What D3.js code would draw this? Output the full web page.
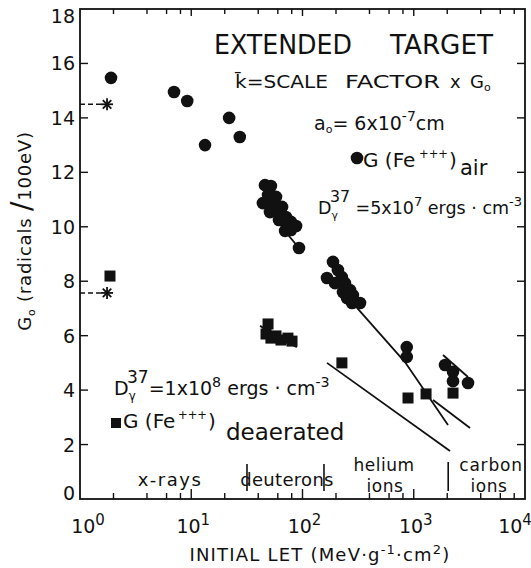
<!DOCTYPE html>
<html><head><meta charset="utf-8">
<script src="https://cdn.jsdelivr.net/npm/d3@7"></script>
<style>body{margin:0;background:#fff}svg{display:block}text{font-family:"DejaVu Sans",sans-serif;fill:#111}</style>
</head><body>
<script>
// ---- data ----
const yTicks = [0,2,4,6,8,10,12,14,16,18];
const xMajor = [1,10,100,1000,10000];
const xExp = ["0","1","2","3","4"];
const xMinorMult = [2,4,6,8];

// G(Fe+++) air (circles)
const airLET = [1.9, 7.0, 9.2, 13.3, 21.9, 27.3,
  46, 52, 49, 57.8, 44, 54, 65.5, 51, 62.8, 71, 61.5, 78.8, 72.6, 87.6, 69.7, 78.8, 93,
  188, 166, 208, 226, 196, 241, 231, 267, 284, 251, 297, 329, 279,
  865, 865, 1910, 2254, 2254, 3074];
const airG = [15.47, 14.95, 14.62, 13.0, 14.0, 13.3,
  11.53, 11.5, 11.17, 11.1, 10.87, 10.87, 10.73, 10.54, 10.54, 10.36, 10.25, 10.18, 9.99, 10.03, 9.85, 9.88, 9.22,
  8.71, 8.12, 8.41, 8.15, 7.93, 7.93, 7.60, 7.68, 7.49, 7.38, 7.24, 7.20, 7.20,
  5.58, 5.22, 4.92, 4.67, 4.33, 4.26];

// G(Fe+++) deaerated (squares)
const deaLET = [1.86, 49, 47, 57.8, 64, 74, 80.5, 52, 226, 888, 1290, 2254];
const deaG   = [8.19, 6.43, 6.06, 5.99, 5.84, 5.91, 5.80, 5.91, 5.0, 3.71, 3.86, 3.89];

// asterisks (computed values) with dashed leaders
const starLET = [1.75, 1.75];
const starG = [14.5, 7.57];

// theoretical curves
const curveAirDeut = [[66, 9.95], [93, 9.22]];
const curveAirHe = [[309, 7.02], [834, 5.03], [2032, 2.72]];
const curveAirC = [[1832, 5.29], [3074, 4.48]];
const curveDeaDeut = [[41.5, 6.36], [89, 5.58]];
const curveDeaHe = [[166, 5.0], [2118, 1.76]];
const curveDeaC = [[1490, 3.64], [3205, 2.61]];

// region separators (LET)
const separators = [31.7, 156, 2040];

// ---- chart ----
const W = 531, H = 568;
const svg = d3.select("body").append("svg").attr("width", W).attr("height", H);
const x = d3.scaleLog().domain([1, 10000]).range([80, 525]);
const y = d3.scaleLinear().domain([0, 18]).range([499, 9]);
const ink = "#111";

// frame
svg.append("rect").attr("x", x(1)).attr("y", y(18)).attr("width", x(10000) - x(1)).attr("height", y(0) - y(18))
  .attr("fill", "none").attr("stroke", ink).attr("stroke-width", 1.8);

// x ticks (bottom & top, inward)
const minor = [];
xMajor.slice(0, 4).forEach(d => xMinorMult.forEach(m => minor.push(d * m)));
const gx = svg.append("g").attr("stroke", ink).attr("stroke-width", 1.4);
minor.forEach(v => {
  gx.append("line").attr("x1", x(v)).attr("x2", x(v)).attr("y1", y(0)).attr("y2", y(0) - 6);
  gx.append("line").attr("x1", x(v)).attr("x2", x(v)).attr("y1", y(18)).attr("y2", y(18) + 5);
});
xMajor.slice(1, 4).forEach(v => {
  gx.append("line").attr("x1", x(v)).attr("x2", x(v)).attr("y1", y(0)).attr("y2", y(0) - 10);
  gx.append("line").attr("x1", x(v)).attr("x2", x(v)).attr("y1", y(18)).attr("y2", y(18) + 7);
});
// y ticks (left & right, inward)
yTicks.slice(1, 9).forEach(v => {
  gx.append("line").attr("x1", x(1)).attr("x2", x(1) + 8).attr("y1", y(v)).attr("y2", y(v));
  gx.append("line").attr("x1", x(10000)).attr("x2", x(10000) - 8).attr("y1", y(v)).attr("y2", y(v));
});

// y tick labels
svg.append("g").selectAll("text").data(yTicks).join("text")
  .attr("x", 75).attr("y", d => y(d) + (d === 18 ? 14 : d === 0 ? 1 : 7))
  .attr("text-anchor", "end").attr("font-size", 19).text(d => d);

// x tick labels
xMajor.forEach((v, i) => {
  const t = svg.append("text").attr("x", x(v) + (i === 4 ? -10 : i === 0 ? 8 : 2)).attr("y", 533)
    .attr("text-anchor", "middle").attr("font-size", 19);
  t.append("tspan").text("10");
  t.append("tspan").attr("dy", -8).attr("font-size", 15).text(xExp[i]);
});

// axis titles
const xt = svg.append("text").attr("x", 320).attr("y", 561).attr("text-anchor", "middle")
  .attr("font-size", 18).attr("letter-spacing", 1.2);
xt.append("tspan").text("INITIAL  LET (MeV\u00b7g");
xt.append("tspan").attr("dy", -7).attr("font-size", 13).text("-1");
xt.append("tspan").attr("dy", 7).text("\u00b7cm");
xt.append("tspan").attr("dy", -7).attr("font-size", 13).text("2");
xt.append("tspan").attr("dy", 7).text(")");

const yt = svg.append("text").attr("transform", "translate(31,231) rotate(-90)").attr("text-anchor", "middle")
  .attr("font-size", 18).attr("letter-spacing", 0.8);
yt.append("tspan").text("G");
yt.append("tspan").attr("dy", 4).attr("font-size", 11).text("o");
yt.append("tspan").attr("dy", -4).text("   (radicals ");
yt.append("tspan").attr("font-size", 28).text("/");
yt.append("tspan").text("100eV)");

// curves
const line = d3.line().x(d => x(d[0])).y(d => y(d[1]));
[curveAirDeut, curveAirHe, curveAirC, curveDeaDeut, curveDeaHe, curveDeaC].forEach(c => {
  svg.append("path").attr("d", line(c)).attr("fill", "none").attr("stroke", ink).attr("stroke-width", 1.8);
});

// separators
separators.forEach((v, i) => {
  svg.append("line").attr("x1", x(v)).attr("x2", x(v)).attr("y1", i === 2 ? 462 : 464).attr("y2", 491)
    .attr("stroke", ink).attr("stroke-width", 1.6);
});

// circles
svg.append("g").selectAll("circle").data(airLET).join("circle")
  .attr("cx", d => x(d)).attr("cy", (d, i) => y(airG[i])).attr("r", 6.3).attr("fill", ink);

// squares
const s = 11;
svg.append("g").selectAll("rect").data(deaLET).join("rect")
  .attr("x", d => x(d) - s / 2).attr("y", (d, i) => y(deaG[i]) - s / 2).attr("width", s).attr("height", s).attr("fill", ink);

// asterisks + dashed leaders
starLET.forEach((v, i) => {
  const cx = x(v), cy = y(starG[i]);
  svg.append("line").attr("x1", x(1)).attr("x2", cx - 6).attr("y1", cy).attr("y2", cy)
    .attr("stroke", ink).attr("stroke-width", 1.6).attr("stroke-dasharray", "5,3");
  const g = svg.append("g").attr("transform", `translate(${cx},${cy})`).attr("stroke", ink).attr("stroke-width", 1.8);
  [0, 45, 90, 135].forEach(a => {
    const r = 6, rad = a * Math.PI / 180;
    g.append("line").attr("x1", -r * Math.cos(rad)).attr("y1", -r * Math.sin(rad)).attr("x2", r * Math.cos(rad)).attr("y2", r * Math.sin(rad));
  });
});

// annotations
svg.append("text").attr("x", 214).attr("y", 54).attr("font-size", 27).attr("textLength", 138).attr("lengthAdjust", "spacingAndGlyphs").text("EXTENDED");
svg.append("text").attr("x", 390).attr("y", 54).attr("font-size", 27).attr("textLength", 103).attr("lengthAdjust", "spacingAndGlyphs").text("TARGET");

svg.append("text").attr("x", 235).attr("y", 88).attr("font-size", 18).attr("textLength", 93).attr("lengthAdjust", "spacingAndGlyphs").text("k\u0304=SCALE");
svg.append("text").attr("x", 345).attr("y", 88).attr("font-size", 18).attr("textLength", 95).attr("lengthAdjust", "spacingAndGlyphs").text("FACTOR");
svg.append("text").attr("x", 450).attr("y", 88).attr("font-size", 18).text("x");
const g0 = svg.append("text").attr("x", 470).attr("y", 88).attr("font-size", 18);
g0.append("tspan").text("G");
g0.append("tspan").attr("dy", 3).attr("font-size", 11).text("o");

const a = svg.append("text").attr("x", 314).attr("y", 130).attr("font-size", 19);
a.append("tspan").text("a");
a.append("tspan").attr("dy", 3).attr("font-size", 11).text("o");
a.append("tspan").attr("dy", -3).text("= 6x10");
a.append("tspan").attr("dy", -9).attr("font-size", 14).text("-7");
a.append("tspan").attr("dy", 9).text("cm");

svg.append("circle").attr("cx", 357).attr("cy", 158).attr("r", 6.3).attr("fill", ink);
const la = svg.append("text").attr("x", 363).attr("y", 167).attr("font-size", 20);
la.append("tspan").text("G (Fe");
la.append("tspan").attr("x", 419).attr("dy", -9).attr("font-size", 11.5).text("+++");
la.append("tspan").attr("x", 449).attr("dy", 9).text(")");
la.append("tspan").attr("x", 460).attr("dy", 8).attr("font-size", 21).text("air");

function dLabel(x0, y0, fs, rest, exp) {
  const t = svg.append("text").attr("x", x0).attr("y", y0).attr("font-size", fs);
  t.append("tspan").text("D");
  t.append("tspan").attr("dy", 5).attr("font-size", fs * 0.62).text("\u03b3");
  t.append("tspan").attr("x", x0 + fs * 0.68).attr("dy", -17).attr("font-size", fs * 0.9).text("37");
  t.append("tspan").attr("dy", 12).text(rest);
  t.append("tspan").attr("dy", -8).attr("font-size", fs * 0.75).text(exp);
  t.append("tspan").attr("dy", 8).text(" ergs \u00b7 cm");
  t.append("tspan").attr("dy", -8).attr("font-size", fs * 0.75).text("-3");
}
dLabel(318, 214, 17.5, " =5x10", "7");
dLabel(114, 395, 19, "=1x10", "8");

svg.append("rect").attr("x", 111).attr("y", 418).attr("width", 10).attr("height", 10).attr("fill", ink);
const ld = svg.append("text").attr("x", 123).attr("y", 428).attr("font-size", 20);
ld.append("tspan").text("G (Fe");
ld.append("tspan").attr("x", 178).attr("dy", -9).attr("font-size", 11.5).text("+++");
ld.append("tspan").attr("x", 208).attr("dy", 9).text(")");
ld.append("tspan").attr("x", 226).attr("dy", 12).attr("font-size", 23).text("deaerated");

// region labels
const regions = [["x-rays", 170, 486, 18, 1.5], ["deuterons", 287, 486, 18, 0.3], ["helium", 384, 471, 17, 0.5], ["ions", 385, 492, 17, 0.5], ["carbon", 491, 471, 17, 0.8], ["ions", 489, 492, 17, 0.5]];
svg.append("g").selectAll("text").data(regions).join("text")
  .attr("x", d => d[1]).attr("y", d => d[2]).attr("text-anchor", "middle")
  .attr("font-size", d => d[3]).attr("letter-spacing", d => d[4]).text(d => d[0]);
</script>
</body></html>
